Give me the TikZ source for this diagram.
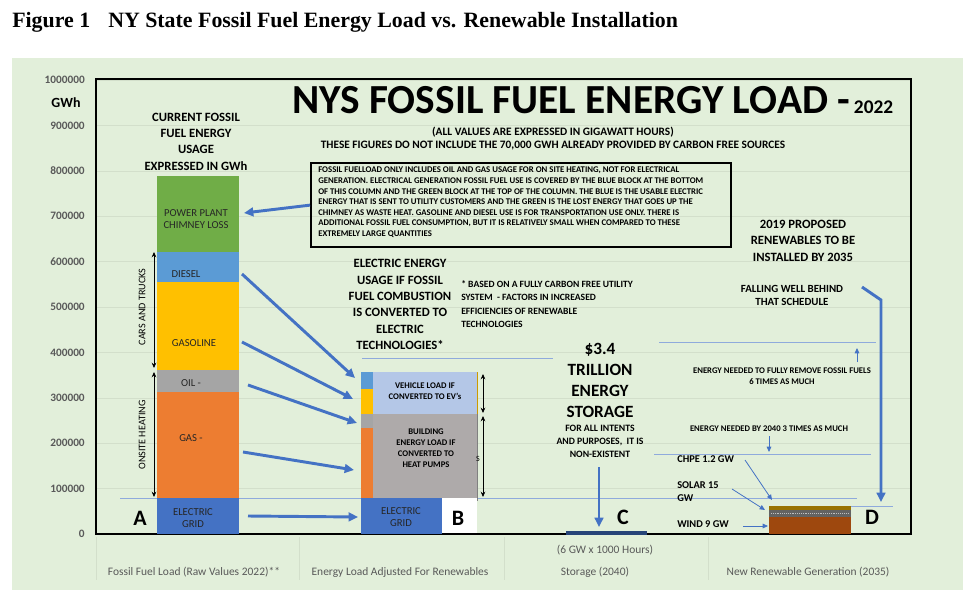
\documentclass[tikz,border=0pt]{standalone}
\usepackage{fontspec}
\setmainfont{Carlito}
\newfontfamily\timesfont{Liberation Serif}
\usetikzlibrary{arrows.meta}
\definecolor{bggreen}{HTML}{E2EFDA}
\definecolor{xlgreen}{HTML}{70AD47}
\definecolor{xlblue}{HTML}{4472C4}
\definecolor{xlltblue}{HTML}{5B9BD5}
\definecolor{xlgold}{HTML}{FFC000}
\definecolor{xlgray}{HTML}{A5A5A5}
\definecolor{xlorange}{HTML}{ED7D31}
\definecolor{vehblue}{HTML}{B4C7E7}
\definecolor{bldgray}{HTML}{AEAAAA}
\definecolor{axisgray}{HTML}{595959}
\definecolor{gridline}{HTML}{D3DFCB}
\definecolor{windbrown}{HTML}{9E480E}
\definecolor{solargray}{HTML}{636363}
\definecolor{chpegold}{HTML}{997300}
\definecolor{storeblue}{HTML}{264478}
\definecolor{guideblue}{HTML}{8FAADC}
\begin{document}
\begin{tikzpicture}[x=0.75pt,y=-0.75pt,inner sep=0pt,
  tick/.style={anchor=east,text=axisgray,font=\bfseries\fontsize{8.5}{10}\selectfont},
  catlabel/.style={text=axisgray,font=\fontsize{8.6}{10}\selectfont},
  heading/.style={align=center,font=\bfseries\fontsize{9.5}{12.3}\selectfont},
  barlabel/.style={align=center,text=black!85,font=\fontsize{8}{9.2}\selectfont},
  smallbold/.style={align=center,font=\bfseries\fontsize{6.5}{8.3}\selectfont},
  sidelabel/.style={anchor=west,align=left,font=\bfseries\fontsize{7.8}{9.75}\selectfont},
  letter/.style={font=\bfseries\fontsize{16.5}{17}\selectfont},
  bigarrow/.style={draw=xlblue,line width=2.2pt,-{Triangle[length=7pt,width=6.5pt]}},
  thinarrow/.style={draw=xlblue,line width=0.6pt,-{Triangle[length=4pt,width=3.5pt]}},
  guide/.style={draw=guideblue,line width=0.7pt},
  span/.style={draw=black,line width=0.7pt,{Stealth[length=4pt,width=3.5pt]}-{Stealth[length=4pt,width=3.5pt]}}]
% page and panel
\fill[white] (0,0) rectangle (975,600);
\fill[bggreen] (12,58) rectangle (963,590);
\node[anchor=base west,font=\timesfont\bfseries\fontsize{16.4}{20}\selectfont] (fig) at (12,27) {Figure 1};
\node[anchor=base west,font=\timesfont\bfseries\fontsize{16.4}{20}\selectfont] (figtitle) at (108,27) {NY State Fossil Fuel Energy Load vs. Renewable Installation};
% value axis
\foreach \v in {1,...,10}
  \draw[gridline] (96,{534-45.4*\v}) -- (911,{534-45.4*\v});
\foreach \v/\t in {0/0,1/100000,2/200000,3/300000,4/400000,5/500000,6/600000,7/700000,8/800000,9/900000,10/1000000}
  \node[tick] (tick\v) at (85,{534-45.4*\v}) {\t};
\node[font=\bfseries\fontsize{10.5}{12}\selectfont] (gwh) at (66,103) {GWh};
\draw[line width=2pt] (96,79) rectangle (911,534);
% category axis
\foreach \x in {96,299,504,708}
  \draw[gridline] (\x,537) -- (\x,580);
\node[catlabel] (catA) at (194,572) {Fossil Fuel Load (Raw Values 2022)**};
\node[catlabel] (catB) at (400,572) {Energy Load Adjusted For Renewables};
\node[catlabel] (catC) at (595,572) {Storage (2040)};
\node[catlabel] (catD) at (808,572) {New Renewable Generation (2035)};
\node[catlabel] (hours) at (605,550) {(6 GW x 1000 Hours)};
% titles
\node[anchor=base west,font=\bfseries\fontsize{31}{31}\selectfont] (maintitle) at (292,113) {NYS FOSSIL FUEL\ ENERGY LOAD\hspace{7pt}-\hspace{3pt}{\fontsize{14.5}{14}\selectfont 2022}};
\node[align=center,font=\bfseries\fontsize{8.5}{9.75}\selectfont] (units) at (553,138.5) {(ALL VALUES ARE EXPRESSED IN GIGAWATT HOURS)\\THESE FIGURES DO NOT INCLUDE THE 70,000 GWH ALREADY PROVIDED BY CARBON FREE SOURCES};
\node[draw,line width=1.7pt,minimum width=315pt,minimum height=63pt,anchor=north west] (note) at (310,162) {};
\node[anchor=north west,align=left,font=\bfseries\fontsize{6.55}{7.95}\selectfont] (notetext) at (318,167) {FOSSIL FUELLOAD ONLY INCLUDES OIL AND GAS USAGE FOR ON SITE HEATING, NOT FOR ELECTRICAL\\GENERATION. ELECTRICAL GENERATION FOSSIL FUEL USE IS COVERED BY THE BLUE BLOCK AT THE BOTTOM\\OF THIS COLUMN AND THE GREEN BLOCK AT THE TOP OF THE COLUMN. THE BLUE IS THE USABLE ELECTRIC\\ENERGY THAT IS SENT TO UTILITY CUSTOMERS AND THE GREEN IS THE LOST ENERGY THAT GOES UP THE\\CHIMNEY AS WASTE HEAT. GASOLINE AND DIESEL USE IS FOR TRANSPORTATION USE ONLY. THERE IS\\ADDITIONAL FOSSIL FUEL CONSUMPTION, BUT IT IS RELATIVELY SMALL WHEN COMPARED TO THESE\\EXTREMELY LARGE QUANTITIES};
% guide lines
\draw[guide] (120,498) -- (857,498);
\draw[guide] (851,506) -- (893,506);
\draw[guide] (362,358) -- (553,358);
\draw[guide] (659,342) -- (876,342);
\draw[guide] (654,454) -- (871,454);
% column A
\fill[xlblue] (157,498) rectangle (239,534);
\fill[xlorange] (157,392) rectangle (239,498);
\fill[xlgray] (157,370) rectangle (239,392);
\fill[xlgold] (157,282) rectangle (239,370);
\fill[xlltblue] (157,252) rectangle (239,282);
\fill[xlgreen] (157,176) rectangle (239,252);
\node[barlabel] (chimney) at (196,219) {POWER PLANT\\CHIMNEY LOSS};
\node[barlabel] (diesel) at (186,274) {DIESEL};
\node[barlabel] (gasoline) at (194,343) {GASOLINE};
\node[barlabel] (oil) at (191,383) {OIL -};
\node[barlabel] (gas) at (191,438) {GAS -};
\node[barlabel] (gridA) at (193,518) {ELECTRIC\\GRID};
\node[heading] (headA) at (196,141.5) {CURRENT FOSSIL\\FUEL ENERGY\\USAGE\\EXPRESSED IN GWh};
\draw[span] (154,252) -- (154,368);
\node[rotate=90,font=\fontsize{7.6}{9}\selectfont] (cars) at (142,307) {CARS AND TRUCKS};
\draw[span] (154,372) -- (154,497);
\node[rotate=90,font=\fontsize{7.6}{9}\selectfont] (onsite) at (142,435) {ONSITE HEATING};
\node[letter] (A) at (140,518) {A};
% column B
\fill[vehblue] (361,372) rectangle (477,414);
\fill[xlltblue] (361,372) rectangle (373,389);
\fill[xlgold] (361,389) rectangle (373,414);
\fill[bldgray] (361,414) rectangle (477,498);
\fill[xlgray] (361,414) rectangle (373,428);
\fill[xlorange] (361,428) rectangle (373,498);
\draw[xlgold!80!black,line width=0.6pt] (477,372) -- (477,414);
\draw[gray,line width=0.6pt] (477,414) -- (477,501);
\fill[xlblue] (361,498) rectangle (442,534);
\fill[white] (442,498) rectangle (477,533);
\node[smallbold] (vehicle) at (425,391) {VEHICLE LOAD IF\\CONVERTED TO EV’s};
\node[smallbold] (building) at (426,448) {BUILDING\\ENERGY LOAD IF\\CONVERTED TO\\HEAT PUMPS};
\node[barlabel] (gridB) at (401,517) {ELECTRIC\\GRID};
\node[font=\fontsize{6}{7}\selectfont] (sB) at (478,459) {S};
\draw[span] (483,374) -- (483,413);
\draw[span] (483,416) -- (483,497);
\node[letter] (B) at (458,518) {B};
\node[heading] (headB) at (400,304.5) {ELECTRIC ENERGY\\USAGE IF FOSSIL\\FUEL COMBUSTION\\IS CONVERTED TO\\ELECTRIC\\TECHNOLOGIES*};
\node[anchor=west,align=left,font=\bfseries\fontsize{7.2}{10}\selectfont] (basis) at (461,304) {* BASED ON A FULLY CARBON FREE UTILITY\\SYSTEM\ \ - FACTORS IN INCREASED\\EFFICIENCIES OF RENEWABLE\\TECHNOLOGIES};
% arrows from A to B
\coordinate (dieselR) at (242,274);
\coordinate (gasolineR) at (242,342);
\coordinate (oilR) at (248,385);
\coordinate (gasR) at (243,452);
\coordinate (gridAR) at (248,516);
\coordinate (vehL) at (355,378);
\coordinate (vehY) at (353,399);
\coordinate (bldG) at (357,423);
\coordinate (bldO) at (354,470);
\coordinate (gridBL) at (358,517);
\coordinate (chimneyR) at (244,213);
\draw[bigarrow] (dieselR) -- (vehL);
\draw[bigarrow] (gasolineR) -- (vehY);
\draw[bigarrow] (oilR) -- (bldG);
\draw[bigarrow] (gasR) -- (bldO);
\draw[bigarrow] (gridAR) -- (gridBL);
\draw[bigarrow] (note.west) -- (chimneyR);
% storage C
\fill[storeblue] (566,531) rectangle (647,534.5);
\node[align=center,font=\bfseries\fontsize{12.9}{15.75}\selectfont] (trillion) at (600,380.5) {\$3.4\\TRILLION\\ENERGY\\STORAGE};
\node[align=center,font=\bfseries\fontsize{7.3}{9.75}\selectfont] (intents) at (600,441) {FOR ALL INTENTS\\AND PURPOSES,\ \ IT IS\\NON-EXISTENT};
\coordinate (storeTop) at (599,467);
\coordinate (storeBar) at (599,527);
\draw[bigarrow] (storeTop) -- (storeBar);
\node[letter] (C) at (623,517) {C};
% renewables D
\fill[windbrown] (769,517) rectangle (851,534);
\fill[solargray] (769,510) rectangle (851,517);
\draw[densely dotted,gray!50,line width=0.4pt] (771,513.5) -- (849,513.5);
\fill[chpegold] (769,506) rectangle (851,510);
\node[letter] (D) at (872,517) {D};
\node[heading] (proposed) at (803,240.5) {2019 PROPOSED\\RENEWABLES TO BE\\INSTALLED BY 2035};
\node[align=center,font=\bfseries\fontsize{8.2}{9.75}\selectfont] (behind) at (792,295.5) {FALLING WELL BEHIND\\THAT SCHEDULE};
\coordinate (behindR) at (862,287);
\coordinate (bend) at (881,300);
\coordinate (dTop) at (881,502);
\draw[bigarrow] (behindR) -- (bend) -- (dTop);
\node[smallbold] (sixtimes) at (782,376.5) {ENERGY NEEDED TO FULLY REMOVE FOSSIL FUELS\\6 TIMES AS MUCH};
\coordinate (sixFoot) at (857,362);
\coordinate (sixHead) at (857,348);
\draw[thinarrow] (sixFoot) -- (sixHead);
\node[smallbold] (threetimes) at (769,429) {ENERGY NEEDED BY 2040 3 TIMES AS MUCH};
\coordinate (threeHead) at (769,452);
\draw[thinarrow] (threetimes.south) ++(0,4) coordinate (threeFoot) -- (threeHead);
\node[sidelabel] (chpe) at (677,459) {CHPE 1.2 GW};
\node[sidelabel] (solar) at (677,491.5) {SOLAR 15\\GW};
\node[sidelabel] (wind) at (677,524) {WIND 9 GW};
\coordinate (chpeR) at (745,460);
\coordinate (solarR) at (732,489);
\coordinate (windR) at (743,526);
\coordinate (chpeTip) at (772,500);
\coordinate (solarTip) at (765,510);
\coordinate (windTip) at (768,526);
\draw[thinarrow] (chpeR) -- (chpeTip);
\draw[thinarrow] (solarR) -- (solarTip);
\draw[thinarrow] (windR) -- (windTip);
\end{tikzpicture}
\end{document}
